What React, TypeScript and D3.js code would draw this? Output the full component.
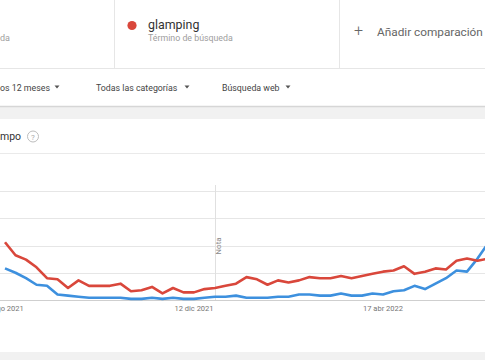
import React from "react";
import * as d3 from "d3";

const START_WEEK = "2021-08-08";
const glamping = [53, 41, 37, 30, 20, 19, 11, 18, 13, 13, 13, 15, 8, 9, 12, 6, 11, 7, 7, 10, 11, 13, 15, 21, 19, 14, 18, 16, 18, 21, 20, 20, 22, 20, 22, 24, 26, 27, 31, 24, 26, 29, 28, 36, 38, 36, 38];
const firstTerm = [29, 25, 20, 14, 13, 5, 4, 3, 2, 2, 2, 2, 1, 1, 2, 1, 2, 1, 1, 2, 3, 3, 4, 2, 2, 2, 3, 3, 5, 5, 4, 4, 6, 4, 4, 6, 5, 8, 9, 13, 10, 15, 20, 27, 26, 38, 52];
const tickDates = ["2021-08-08", "2021-12-12", "2022-04-17"];
const tickLabels = ["8 ago 2021", "12 dic 2021", "17 abr 2022"];
const gridValues = [0, 25, 50, 75, 100];
const noteDate = "2021-12-26";
const filters = ["os 12 meses", "Todas las categorías", "Búsqueda web"];

const W = 485;
const H = 360;
const FONT = "Roboto, 'Noto Sans', Arial, sans-serif";
const BLUE = "#3d90de";
const RED = "#d9473b";

export default function App() {
  const parse = d3.utcParse("%Y-%m-%d");
  const start = parse(START_WEEK) as Date;
  const dates = glamping.map((_, i) => d3.utcDay.offset(start, 7 * i));
  const x = d3
    .scaleUtc()
    .domain([parse(tickDates[0]) as Date, parse(tickDates[2]) as Date])
    .range([5, 383]);
  const y = d3.scaleLinear().domain([0, 100]).range([300, 191]);
  const line = d3
    .line<number>()
    .x((_, i) => x(dates[i]))
    .y((d) => y(d));
  const noteX = Math.round(x(parse(noteDate) as Date)) + 0.5;
  const filterX = [0, 96, 222];
  const arrowX = [54.5, 184.5, 285.5];

  return (
    <svg
      width={W}
      height={H}
      style={{ position: "absolute", left: 0, top: 0, fontFamily: FONT }}
    >
      <rect x={0} y={0} width={W} height={H} fill="#f1f1f1" />
      {/* top white area */}
      <rect x={0} y={0} width={W} height={106} fill="#ffffff" />
      <line x1={0} x2={W} y1={106.5} y2={106.5} stroke="#d6d6d6" strokeWidth={1.5} />
      <line x1={0} x2={W} y1={68.5} y2={68.5} stroke="#e6e6e6" />
      <line x1={114.5} x2={114.5} y1={0} y2={68} stroke="#e6e6e6" />
      <line x1={339.5} x2={339.5} y1={0} y2={68} stroke="#e6e6e6" />
      <text x={0} y={41} fontSize={9} fill="#9e9e9e">da</text>
      <circle cx={132} cy={25.5} r={4.6} fill={RED} />
      <text x={148} y={29} fontSize={12.4} fill="#333">glamping</text>
      <text x={148} y={41} fontSize={8.8} fill="#9e9e9e">Término de búsqueda</text>
      <text x={354} y={36} fontSize={16} fill="#666" fontWeight={300}>+</text>
      <text x={377} y={36} fontSize={11.8} fill="#666">Añadir comparación</text>
      {filters.map((f, i) => (
        <g key={f}>
          <text x={filterX[i]} y={90.5} fontSize={8.8} fill="#444">{f}</text>
          <path d={`M${arrowX[i]},85.5 l5,0 l-2.5,3 z`} fill="#555" />
        </g>
      ))}
      {/* card */}
      <rect x={0} y={119} width={W} height={233} fill="#ffffff" />
      <text x={0} y={140} fontSize={10.5} fill="#333">mpo</text>
      <circle cx={33} cy={136.5} r={5.5} fill="none" stroke="#bdbdbd" strokeWidth={1} />
      <text x={33} y={139.5} fontSize={8} fill="#aaa" textAnchor="middle">?</text>
      <line x1={0} x2={W} y1={153.5} y2={153.5} stroke="#eaeaea" />
      {gridValues.map((v) => (
        <line
          key={v}
          x1={0}
          x2={W}
          y1={Math.round(y(v)) + 0.5}
          y2={Math.round(y(v)) + 0.5}
          stroke={v === 0 ? "#cfcfcf" : "#e6e6e6"}
          strokeWidth={1}
        />
      ))}
      <line x1={noteX} x2={noteX} y1={185} y2={300} stroke="#e0e0e0" />
      <text
        transform={`translate(${noteX + 5.5},${246}) rotate(-90)`}
        fontSize={8}
        fill="#8a8a8a"
        textAnchor="middle"
      >
        Nota
      </text>
      {tickDates.map((t, i) => (
        <text
          key={t}
          x={x(parse(t) as Date)}
          y={310.5}
          fontSize={7.5}
          fill="#757575"
          textAnchor="middle"
        >
          {tickLabels[i]}
        </text>
      ))}
      <path d={line(firstTerm) || ""} fill="none" stroke={BLUE} strokeWidth={2.6} strokeLinejoin="round" />
      <path d={line(glamping) || ""} fill="none" stroke={RED} strokeWidth={2.6} strokeLinejoin="round" />
    </svg>
  );
}
